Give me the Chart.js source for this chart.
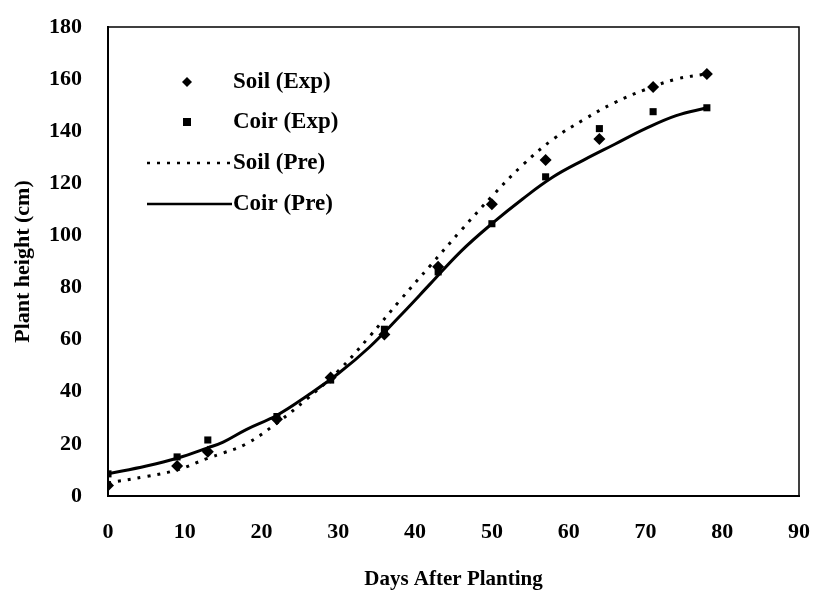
<!DOCTYPE html>
<html>
<head>
<meta charset="utf-8">
<script src="https://cdn.jsdelivr.net/npm/chart.js@4.4.1/dist/chart.umd.min.js"></script>
<style>
  html, body { margin: 0; padding: 0; background: #fff; }
  #wrap { width: 814px; height: 593px; }
</style>
</head>
<body>
<div id="wrap"><canvas id="plant-chart" width="814" height="593"></canvas></div>
<script>
// measured days and plant heights (cm)
const expDays = [0, 9, 13, 22, 29, 36, 43, 50, 57, 64, 71, 78];
const soilExp = [4, 11.5, 17, 29.5, 45.5, 62, 88, 112, 129, 137, 157, 162];
const coirExp = [8.5, 15, 21.5, 30.5, 44.5, 64, 86, 104.5, 122.5, 141, 147.5, 149];

// predicted curves
const preDays = [0, 5, 9, 13, 15, 18, 22, 26, 30, 34, 38, 42, 46, 50, 54, 58, 62, 66, 70, 74, 78];
const soilPre = [5, 7.5, 10, 14.5, 16.5, 20, 28, 37.5, 48, 61, 75, 88.5, 102, 115, 127, 137, 144.5, 151, 156, 160, 162];
const coirPre = [8.5, 11.5, 14.5, 18.5, 20.7, 25.5, 31, 38.6, 47, 57, 69, 81.5, 94, 104.5, 114, 122.5, 129, 135, 141, 146, 149];

const xTicks = [0, 10, 20, 30, 40, 50, 60, 70, 80, 90];
const yTicks = [0, 20, 40, 60, 80, 100, 120, 140, 160, 180];
const legendNames = ['Soil (Exp)', 'Coir (Exp)', 'Soil (Pre)', 'Coir (Pre)'];

const SERIF = '"Liberation Serif", "Times New Roman", serif';
const toXY = (xs, ys) => xs.map((x, i) => ({ x, y: ys[i] }));

// box round the plot area
const framePlugin = {
    id: 'frame',
    afterDraw(chart) {
        const { ctx, chartArea: a } = chart;
        ctx.save();
        ctx.strokeStyle = '#000';
        ctx.lineWidth = 1.5;
        ctx.strokeRect(a.left, a.top, a.right - a.left, a.bottom - a.top);
        ctx.restore();
    }
};

// legend drawn inside the plot, top left
const legendPlugin = {
    id: 'insideLegend',
    afterDraw(chart) {
        const { ctx, chartArea: a } = chart;
        const rows = [55, 95, 136, 177];
        const markX = a.left + 79, textX = a.left + 125;
        ctx.save();
        ctx.fillStyle = '#000';
        ctx.strokeStyle = '#000';
        ctx.font = 'bold 23px ' + SERIF;
        ctx.textBaseline = 'middle';
        rows.forEach((dy, i) => {
            const y = a.top + dy;
            if (i === 0) {
                ctx.beginPath();
                ctx.moveTo(markX, y - 5); ctx.lineTo(markX + 5, y);
                ctx.lineTo(markX, y + 5); ctx.lineTo(markX - 5, y);
                ctx.closePath(); ctx.fill();
            } else if (i === 1) {
                ctx.fillRect(markX - 4, y - 4, 8, 8);
            } else {
                ctx.lineWidth = 2.5;
                ctx.setLineDash(i === 2 ? [3, 7] : []);
                ctx.beginPath();
                ctx.moveTo(a.left + 39, y); ctx.lineTo(a.left + 124, y);
                ctx.stroke();
                ctx.setLineDash([]);
            }
            ctx.fillText(legendNames[i], textX, y);
        });
        ctx.restore();
    }
};

const ctx = document.getElementById('plant-chart').getContext('2d');
new Chart(ctx, {
    type: 'scatter',
    data: {
        datasets: [
            { label: 'Soil (Pre)', data: toXY(preDays, soilPre), showLine: true, borderColor: '#000', borderWidth: 3, borderDash: [3, 7], pointRadius: 0, tension: 0.4, fill: false },
            { label: 'Coir (Pre)', data: toXY(preDays, coirPre), showLine: true, borderColor: '#000', borderWidth: 3, pointRadius: 0, tension: 0.4, fill: false },
            { label: 'Soil (Exp)', data: toXY(expDays, soilExp), pointStyle: 'rectRot', pointRadius: 6, backgroundColor: '#000', borderColor: '#000', borderWidth: 0 },
            { label: 'Coir (Exp)', data: toXY(expDays, coirExp), pointStyle: 'rect', pointRadius: 5, backgroundColor: '#000', borderColor: '#000', borderWidth: 0 }
        ]
    },
    options: {
        responsive: false,
        animation: false,
        layout: { padding: { left: 0, right: 15, top: 27, bottom: 0 } },
        plugins: { legend: { display: false }, tooltip: { enabled: false } },
        scales: {
            x: {
                type: 'linear', min: 0, max: 90,
                afterBuildTicks: s => { s.ticks = xTicks.map(v => ({ value: v })); },
                afterFit: s => { s.height = 97; s.paddingLeft = 0; s.paddingRight = 0; },
                grid: { display: false, drawTicks: false },
                border: { display: true, color: '#000', width: 2 },
                ticks: { color: '#000', padding: 23, font: { family: SERIF, size: 22, weight: 'bold' } },
                title: { display: true, text: 'Days After Planting', color: '#000', padding: { top: 0, bottom: 1 }, font: { family: SERIF, size: 21, weight: 'bold' } }
            },
            y: {
                type: 'linear', min: 0, max: 180,
                afterBuildTicks: s => { s.ticks = yTicks.map(v => ({ value: v })); },
                afterFit: s => { s.width = 108; s.paddingTop = 0; s.paddingBottom = 0; },
                grid: { display: false, drawTicks: false },
                border: { display: true, color: '#000', width: 2 },
                ticks: { color: '#000', padding: 26, font: { family: SERIF, size: 22, weight: 'bold' } },
                title: { display: true, text: 'Plant height (cm)', color: '#000', padding: { top: 10, bottom: 10 }, font: { family: SERIF, size: 22, weight: 'bold' } }
            }
        }
    },
    plugins: [framePlugin, legendPlugin]
});
</script>
</body>
</html>
